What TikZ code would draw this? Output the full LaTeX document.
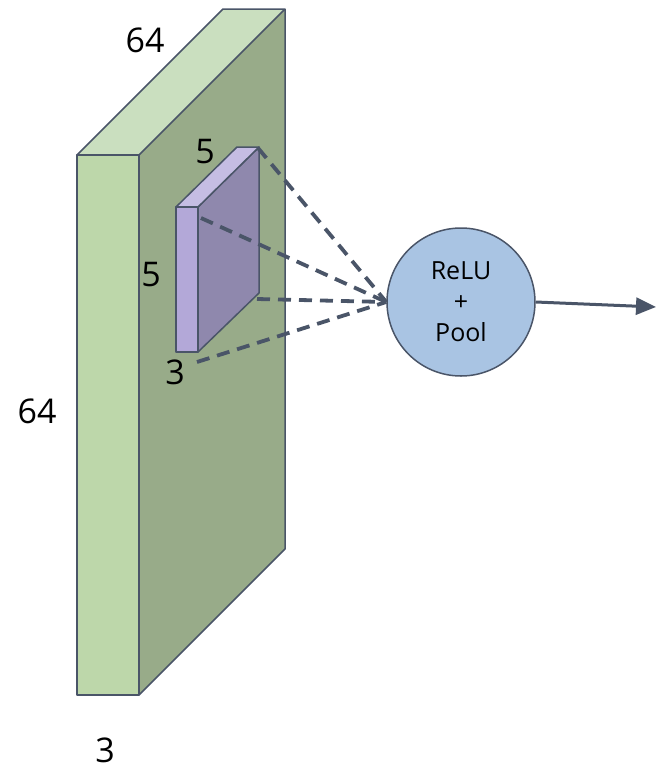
\documentclass[tikz,border=0pt]{standalone}
\usepackage{fontspec}
\setmainfont{Open Sans}
\usetikzlibrary{arrows.meta}

\definecolor{edge}{HTML}{4A5568}
\definecolor{slabfront}{HTML}{BDD7AA}
\definecolor{slabtop}{HTML}{CADFBF}
\definecolor{slabside}{HTML}{98AB89}
\definecolor{kfront}{HTML}{B3A8D8}
\definecolor{ktop}{HTML}{C5BDE3}
\definecolor{kside}{HTML}{8F88AD}
\definecolor{opfill}{HTML}{A9C4E3}

\tikzset{
  face/.style={draw=edge, line width=1.5pt, line join=round},
  dimlabel/.style={font=\fontsize{34}{34}\selectfont, inner sep=0pt},
  opnode/.style={circle, draw=edge, line width=1.5pt, fill=opfill,
                 minimum size=148pt, inner sep=0pt, align=center,
                 font=\fontsize{25}{31}\selectfont},
  link/.style={draw=edge, line width=3.8pt, dash pattern=on 13pt off 8pt},
  flow/.style={draw=edge, line width=3pt, -{Triangle[length=20pt,width=17pt]}}
}

\begin{document}
\begin{tikzpicture}[x=1pt, y=-1pt]
  \useasboundingbox (0,0) rectangle (656,769);

  % input volume 64 x 64 x 3
  \coordinate (sf-tl) at (77,155);
  \coordinate (sf-tr) at (139,155);
  \coordinate (sf-br) at (139,695);
  \coordinate (sf-bl) at (77,695);
  \coordinate (sb-tl) at (223,9);
  \coordinate (sb-tr) at (285,9);
  \coordinate (sb-br) at (285,549);
  \fill[slabside] (sf-tr) -- (sb-tr) -- (sb-br) -- (sf-br) -- cycle;
  \draw[face, fill=slabtop] (sf-tl) -- (sb-tl) -- (sb-tr) -- (sf-tr) -- cycle;
  \draw[face] (sb-tr) -- (sb-br) -- (sf-br);
  \draw[face, fill=slabfront] (sf-tl) rectangle (sf-br);

  % 5 x 5 x 3 filter
  \coordinate (kf-tl) at (176,207);
  \coordinate (kf-tr) at (198,207);
  \coordinate (kf-br) at (198,352);
  \coordinate (kf-bl) at (176,352);
  \coordinate (kb-tl) at (237,147);
  \coordinate (kb-tr) at (259,147);
  \coordinate (kb-br) at (259,293);
  \draw[face, fill=kside] (kf-tr) -- (kb-tr) -- (kb-br) -- (kf-br) -- cycle;
  \draw[face, fill=ktop] (kf-tl) -- (kb-tl) -- (kb-tr) -- (kf-tr) -- cycle;
  \draw[face, fill=kfront] (kf-tl) rectangle (kf-br);

  % dimension labels
  \node[dimlabel] (w-in) at (145,40) {64};
  \node[dimlabel] (h-in) at (37,411) {64};
  \node[dimlabel] (d-in) at (105,750) {3};
  \node[dimlabel] (w-k) at (205,152) {5};
  \node[dimlabel] (h-k) at (151,275) {5};
  \node[dimlabel] (d-k) at (175,372) {3};

  % activation + pooling
  \node[opnode] (relu) at (461,302) {ReLU\\+\\Pool};

  % receptive field rays
  \coordinate (r1) at (258,148);
  \coordinate (r2) at (201,218);
  \coordinate (r3) at (257,299);
  \coordinate (r4) at (197,362);
  \foreach \r in {r1,r2,r3,r4}
    \draw[link] (\r) -- (relu.west);

  % output
  \coordinate (out) at (656,307);
  \draw[flow] (relu.east) -- (out);
\end{tikzpicture}
\end{document}
